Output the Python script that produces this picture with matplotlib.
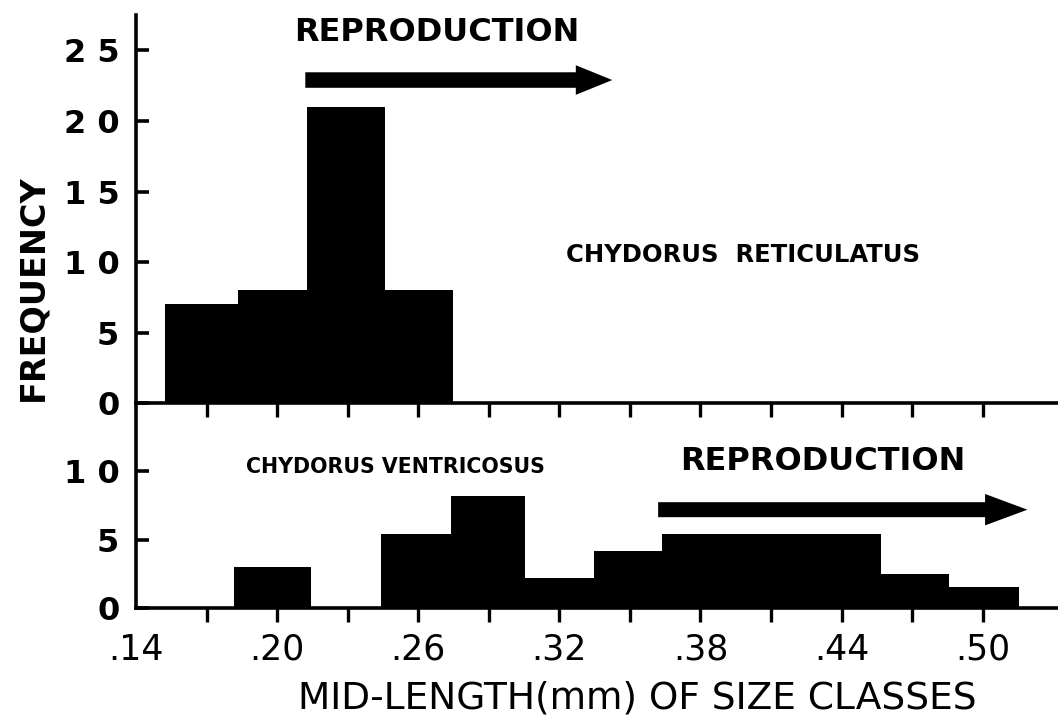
import matplotlib
matplotlib.use("Agg")
from matplotlib import pyplot as plt

# size classes (mm) and frequencies
top_edges = [0.1523, 0.1834, 0.2127, 0.2458, 0.2747]
top_counts = [7, 8, 21, 8]

bottom_edges = [0.1817, 0.2144, 0.2441, 0.2739, 0.3053, 0.3346, 0.3635,
                0.3945, 0.4255, 0.4566, 0.4855, 0.5153]
bottom_counts = [3, 0, 5.4, 8.2, 2.2, 4.2, 5.4, 5.4, 5.4, 2.5, 1.5]

x_ticks = [0.14, 0.20, 0.26, 0.32, 0.38, 0.44, 0.50]
x_ticklabels = ['.14', '.20', '.26', '.32', '.38', '.44', '.50']
x_minor = [0.17, 0.23, 0.29, 0.35, 0.41, 0.47]

top_yticks = [0, 5, 10, 15, 20, 25]
top_yticklabels = ['0', '5', '1 0', '1 5', '2 0', '2 5']
bottom_yticks = [0, 5, 10]
bottom_yticklabels = ['0', '5', '1 0']

fig = plt.figure(figsize=(10.58, 7.2), dpi=100)
ax_top = fig.add_axes([0.1285, 0.44, 0.8715, 0.539])
ax_bot = fig.add_axes([0.1285, 0.1556, 0.8715, 0.2844])

xlim = (0.14, 0.532)


def style(ax, ylim, yticks, ylabels):
    ax.set_xlim(*xlim)
    ax.set_ylim(*ylim)
    for s in ['top', 'right']:
        ax.spines[s].set_visible(False)
    for s in ['left', 'bottom']:
        ax.spines[s].set_linewidth(2.6)
    ax.set_yticks(yticks)
    ax.set_yticklabels(ylabels, fontsize=23, fontweight='bold')
    ax.tick_params(axis='y', direction='in', length=9, width=2.6, pad=12)
    ax.set_xticks(x_ticks)
    ax.set_xticks(x_minor, minor=True)
    ax.tick_params(axis='x', which='both', direction='out', length=10, width=2.4)
    ax.xaxis.get_major_ticks()[0].tick1line.set_visible(False)
    ax.patch.set_alpha(0)


style(ax_top, (0, 27.5), top_yticks, top_yticklabels)
style(ax_bot, (0, 15), bottom_yticks, bottom_yticklabels)
ax_top.set_xticklabels([])
ax_bot.set_xticklabels(x_ticklabels, fontsize=25)
ax_bot.tick_params(axis='x', pad=8)

ax_top.bar(top_edges[:-1], top_counts,
           width=[b - a for a, b in zip(top_edges[:-1], top_edges[1:])],
           align='edge', color='black', linewidth=0)
ax_bot.bar(bottom_edges[:-1], bottom_counts,
           width=[b - a for a, b in zip(bottom_edges[:-1], bottom_edges[1:])],
           align='edge', color='black', linewidth=0)

# reproduction arrows
ax_top.arrow(0.212, 22.9, 0.115, 0, width=1.1, head_width=2.1, head_length=0.0155,
             length_includes_head=False, color='black', linewidth=0)
ax_bot.arrow(0.362, 7.2, 0.139, 0, width=1.1, head_width=2.3, head_length=0.018,
             length_includes_head=False, color='black', linewidth=0)

ax_top.text(0.268, 26.3, 'REPRODUCTION', fontsize=23, fontweight='bold',
            ha='center', va='center')
ax_top.text(0.398, 10.5, 'CHYDORUS  RETICULATUS', fontsize=17.5, fontweight='bold',
            ha='center', va='center')
ax_bot.text(0.2505, 10.3, 'CHYDORUS VENTRICOSUS', fontsize=14.8, fontweight='bold',
            ha='center', va='center')
ax_bot.text(0.432, 10.7, 'REPRODUCTION', fontsize=23, fontweight='bold',
            ha='center', va='center')

fig.text(0.031, 0.60, 'FREQUENCY', rotation=90, fontsize=24, fontweight='bold',
         ha='center', va='center')
fig.text(0.602, 0.03, 'MID-LENGTH(mm) OF SIZE CLASSES', fontsize=27,
         ha='center', va='center')

fig.savefig('out.png', dpi=100)
